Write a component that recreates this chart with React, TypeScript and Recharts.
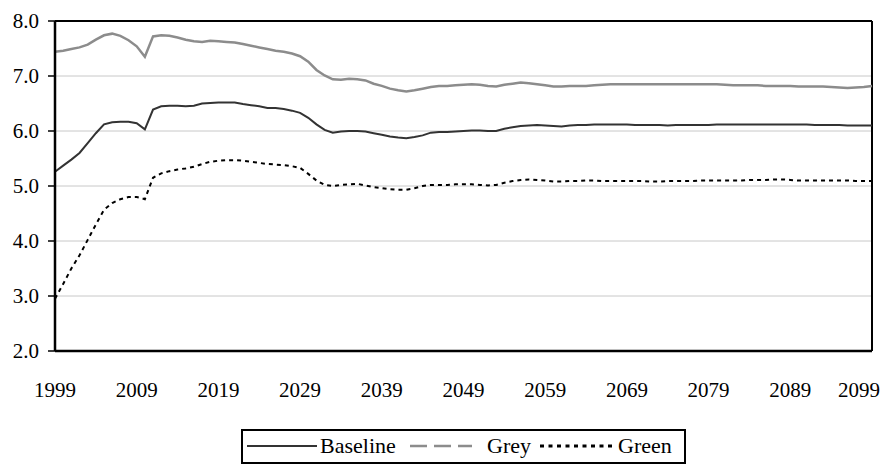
import { LineChart, Line, XAxis, YAxis, CartesianGrid, Legend, ReferenceLine } from 'recharts';

const START_YEAR = 1999;

// values, one per year 1999..2099
const baseline = [
  5.26, 5.37, 5.48, 5.6, 5.78, 5.96, 6.12, 6.16, 6.17, 6.17,
  6.14, 6.03, 6.39, 6.45, 6.46, 6.46, 6.45, 6.46, 6.5, 6.51,
  6.52, 6.52, 6.52, 6.49, 6.47, 6.45, 6.42, 6.42, 6.4, 6.37,
  6.33, 6.24, 6.12, 6.02, 5.97, 5.99, 6.0, 6.0, 5.99, 5.96,
  5.93, 5.9, 5.88, 5.87, 5.89, 5.92, 5.97, 5.98, 5.98, 5.99,
  6.0, 6.01, 6.01, 6.0, 6.0, 6.04, 6.07, 6.09, 6.1, 6.11,
  6.1, 6.09, 6.08, 6.1, 6.11, 6.11, 6.12, 6.12, 6.12, 6.12,
  6.12, 6.11, 6.11, 6.11, 6.11, 6.1, 6.11, 6.11, 6.11, 6.11,
  6.11, 6.12, 6.12, 6.12, 6.12, 6.12, 6.12, 6.12, 6.12, 6.12,
  6.12, 6.12, 6.12, 6.11, 6.11, 6.11, 6.11, 6.1, 6.1, 6.1,
  6.1,
];

const grey = [
  7.44, 7.46, 7.49, 7.52, 7.57, 7.66, 7.74, 7.77, 7.73, 7.65,
  7.54, 7.35, 7.72, 7.74, 7.73, 7.7, 7.66, 7.63, 7.62, 7.64,
  7.63, 7.62, 7.61, 7.58, 7.55, 7.52, 7.49, 7.46, 7.44, 7.41,
  7.36, 7.26, 7.11, 7.01, 6.94, 6.93, 6.95, 6.94, 6.92, 6.86,
  6.82, 6.77, 6.74, 6.72, 6.74, 6.77, 6.8, 6.82, 6.82, 6.83,
  6.84, 6.85, 6.84, 6.82, 6.81, 6.84, 6.86, 6.88, 6.87, 6.85,
  6.83, 6.81, 6.81, 6.82, 6.82, 6.82, 6.83, 6.84, 6.85, 6.85,
  6.85, 6.85, 6.85, 6.85, 6.85, 6.85, 6.85, 6.85, 6.85, 6.85,
  6.85, 6.85, 6.84, 6.83, 6.83, 6.83, 6.83, 6.82, 6.82, 6.82,
  6.82, 6.81, 6.81, 6.81, 6.81, 6.8, 6.79, 6.78, 6.79, 6.8,
  6.82,
];

const green = [
  2.95, 3.22, 3.5, 3.74, 4.02, 4.3, 4.57, 4.69, 4.76, 4.8,
  4.8, 4.76, 5.15, 5.23, 5.27, 5.3, 5.32, 5.35, 5.4, 5.44,
  5.46, 5.47, 5.47, 5.46, 5.44, 5.42, 5.4, 5.39, 5.38, 5.36,
  5.33, 5.22, 5.1, 5.02, 5.0, 5.02, 5.03, 5.04, 5.01, 4.98,
  4.96, 4.94, 4.93, 4.93, 4.96, 5.0, 5.02, 5.02, 5.02, 5.03,
  5.03, 5.03, 5.02, 5.01, 5.02, 5.06, 5.09, 5.11, 5.12, 5.11,
  5.1, 5.08, 5.08, 5.09, 5.09, 5.1, 5.1, 5.09, 5.09, 5.09,
  5.09, 5.09, 5.09, 5.08, 5.08, 5.09, 5.09, 5.09, 5.09, 5.1,
  5.1, 5.1, 5.1, 5.1, 5.1, 5.11, 5.11, 5.11, 5.12, 5.12,
  5.11, 5.1, 5.1, 5.1, 5.1, 5.1, 5.1, 5.1, 5.09, 5.09,
  5.09,
];

const xTicks = [1999, 2009, 2019, 2029, 2039, 2049, 2059, 2069, 2079, 2089, 2099];
const yTicks = [2, 3, 4, 5, 6, 7, 8];

const data = baseline.map((b, i) => ({
  year: START_YEAR + i,
  baseline: b,
  grey: grey[i],
  green: green[i],
}));

const FONT = "'Liberation Serif', 'DejaVu Serif', 'Times New Roman', Times, serif";

// legend drawn as a boxed strip like the original
const renderLegend = () => (
  <svg width={445} height={35} style={{ display: 'block', fontFamily: FONT }}>
    <rect x={1} y={1} width={443} height={33} fill="#fff" stroke="#000" strokeWidth={2} />
    <line x1={6} y1={17} x2={76} y2={17} stroke="#333" strokeWidth={2} />
    <text x={79} y={24} fontSize={22} style={{ fontFamily: FONT }} fill="#000">Baseline</text>
    <line x1={169} y1={17} x2={231} y2={17} stroke="#8c8c8c" strokeWidth={2.5} strokeDasharray="17 7" />
    <text x={246} y={24} fontSize={22} style={{ fontFamily: FONT }} fill="#000">Grey</text>
    <line x1={299} y1={17} x2={374} y2={17} stroke="#000" strokeWidth={3} strokeDasharray="4 4.5" />
    <text x={377} y={24} fontSize={22} style={{ fontFamily: FONT }} fill="#000">Green</text>
  </svg>
);

// x tick label; the last one is pulled inside the frame like the original
const XTick = (props: any) => {
  const { x, y, payload } = props;
  const last = payload.value === xTicks[xTicks.length - 1];
  return (
    <text
      x={last ? x + 8 : x}
      y={y}
      dy="0.71em"
      textAnchor={last ? 'end' : 'middle'}
      fontSize={21}
      fill="#000"
      style={{ fontFamily: FONT }}
    >
      {payload.value}
    </text>
  );
};

export default function App() {
  return (
    <div style={{ fontFamily: FONT }}>
      <LineChart
        width={882}
        height={456}
        data={data}
        margin={{ top: 13, right: 18, left: 0, bottom: 38 }}
        style={{ fontFamily: FONT }}
      >
        <CartesianGrid horizontal vertical={false} stroke="#c8c8c8" />
        <XAxis
          dataKey="year"
          type="number"
          domain={[1999, 2099]}
          ticks={xTicks}
          tickLine={false}
          tickSize={0}
          tickMargin={31}
          height={40}
          axisLine={{ stroke: '#000', strokeWidth: 2.5 }}
          tick={<XTick />}
        />
        <YAxis
          domain={[2, 8]}
          ticks={yTicks}
          width={47}
          tickSize={7}
          tickMargin={9}
          tickFormatter={(v: number) => v.toFixed(1)}
          axisLine={{ stroke: '#000', strokeWidth: 2.5 }}
          tickLine={{ stroke: '#000', strokeWidth: 1.5 }}
          tick={{ fontSize: 21, fill: '#000', style: { fontFamily: FONT } }}
        />
        <ReferenceLine y={8} stroke="#000" strokeWidth={2} />
        <ReferenceLine x={2099} stroke="#000" strokeWidth={2} />
        <Line type="linear" dataKey="grey" stroke="#8c8c8c" strokeWidth={2.5} dot={false} isAnimationActive={false} />
        <Line type="linear" dataKey="baseline" stroke="#333" strokeWidth={2} dot={false} isAnimationActive={false} />
        <Line type="linear" dataKey="green" stroke="#000" strokeWidth={2} strokeDasharray="4 4" dot={false} isAnimationActive={false} />
        <Legend
          verticalAlign="bottom"
          content={renderLegend}
          wrapperStyle={{ left: 233, top: 421, width: 445, height: 35 }}
        />
      </LineChart>
    </div>
  );
}
